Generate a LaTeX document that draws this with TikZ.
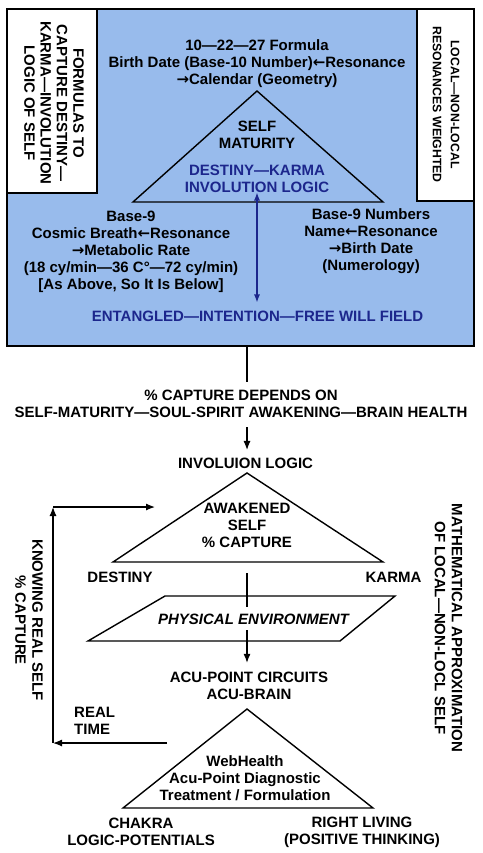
\documentclass[tikz,border=0pt]{standalone}
\usepackage{fontspec}
\setmainfont{Liberation Sans}
\newfontfamily\symfnt{DejaVu Sans}
\usetikzlibrary{arrows.meta}
\definecolor{boxblue}{RGB}{152,187,236}
\definecolor{txtblue}{RGB}{28,38,140}
\newcommand{\myla}{{\symfnt\bfseries ←}}
\newcommand{\myra}{{\symfnt\bfseries →}}
\begin{document}
\begin{tikzpicture}[x=1pt,y=-1pt,
  lbl/.style={font=\bfseries\fontsize{15}{17}\selectfont, align=center, inner sep=0pt},
  frame/.style={draw, line width=1.3pt, inner sep=0pt},
  tri/.style={draw, line width=1.4pt, line join=miter},
  plain/.style={draw, line width=1.2pt},
  arr/.style={draw, line width=1.2pt, -{Latex[length=9pt,width=7pt]}},
  barr/.style={draw=txtblue, line width=1.2pt, {Latex[length=8pt,width=6pt]}-{Latex[length=8pt,width=6pt]}}]
\useasboundingbox (0,0) rectangle (482,853);
% top blue panel
\node[frame, fill=boxblue, minimum width=467, minimum height=337] (outer) at (240.5,177.5) {};
\node[frame, fill=white, minimum width=90, minimum height=184] (lbox) at (52,101) {};
\node[frame, fill=white, minimum width=57, minimum height=192] (rbox) at (445.5,105) {};
\node[lbl, rotate=-90, font=\bfseries\fontsize{15}{16.3}\selectfont] (ltext) at (54,103)
  {FORMULAS TO\\CAPTURE DESTINY—\\KARMA—INVOLUTION\\LOGIC OF SELF};
\node[lbl, rotate=-90, font=\bfseries\fontsize{12.3}{18}\selectfont] (rtext) at (446,104.5)
  {LOCAL—NON-LOCAL\\RESONANCES WEIGHTED};
\node[lbl] (formula) at (257,64)
  {10—22—27 Formula\\Birth Date (Base-10 Number)\myla Resonance\\\myra Calendar (Geometry)};
\coordinate (t1a) at (257,91);
\coordinate (t1l) at (133,202);
\coordinate (t1r) at (383,202);
\draw[tri] (t1a) -- (t1l) -- (t1r) -- cycle;
\node[lbl] (selfmat) at (257,134.5) {SELF\\MATURITY};
\node[lbl, text=txtblue] (invlogic) at (257,178.5) {DESTINY—KARMA\\INVOLUTION LOGIC};
\node[lbl] (base9l) at (131,251.5)
  {Base-9\\Cosmic Breath\myla Resonance\\\myra Metabolic Rate\\(18 cy/min—36 C°—72 cy/min)\\\relax [As Above, So It Is Below]};
\node[lbl] (base9r) at (371,241)
  {Base-9 Numbers\\Name\myla Resonance\\\myra Birth Date\\(Numerology)};
\node[lbl, text=txtblue] (entangled) at (257.5,316) {ENTANGLED—INTENTION—FREE WILL FIELD};
\draw[barr, shorten >=8pt] (invlogic.south) -- (entangled.north -| invlogic.south);
% lower flow
\coordinate (ax) at (247,0);
\node[lbl] (capture) at (241,403.5)
  {\% CAPTURE DEPENDS ON\\SELF-MATURITY—SOUL-SPIRIT AWAKENING—BRAIN HEALTH};
\draw[plain, shorten >=7pt] (outer.south -| ax) -- (capture.north -| ax);
\node[lbl] (involuion) at (245.5,463) {INVOLUION LOGIC};
\draw[arr, shorten <=9.5pt, shorten >=7.5pt] (capture.south -| ax) -- (involuion.north -| ax);
\coordinate (t2a) at (247,473);
\coordinate (t2l) at (113,562);
\coordinate (t2r) at (383,562);
\draw[tri] (t2a) -- (t2l) -- (t2r) -- cycle;
\node[lbl] (awakened) at (247,525) {AWAKENED\\SELF\\\% CAPTURE};
\node[lbl] (destiny) at (120,577) {DESTINY};
\node[lbl] (karma) at (393.5,577) {KARMA};
\coordinate (p1) at (165,596);
\coordinate (p2) at (395,596);
\coordinate (p3) at (340,641);
\coordinate (p4) at (88,641);
\draw[tri] (p1) -- (p2) -- (p3) -- (p4) -- cycle;
\node[lbl, font=\bfseries\itshape\fontsize{15}{17}\selectfont] (physenv) at (253.5,619) {PHYSICAL ENVIRONMENT};
\coordinate (t2gap) at (247,573);
\draw[plain, shorten >=6.6pt] (t2gap) -- (physenv.north -| ax);
\node[lbl] (acu) at (249,685.5) {ACU-POINT CIRCUITS\\ACU-BRAIN};
\draw[arr, shorten <=5.6pt, shorten >=8.6pt] (physenv.south -| ax) -- (acu.north -| ax);
\coordinate (t3a) at (247,709);
\coordinate (t3l) at (123,808);
\coordinate (t3r) at (373,808);
\draw[tri] (t3a) -- (t3l) -- (t3r) -- cycle;
\node[lbl] (webhealth) at (245,778.5) {WebHealth\\Acu-Point Diagnostic\\Treatment / Formulation};
\node[lbl] (chakra) at (141,832) {CHAKRA\\LOGIC-POTENTIALS};
\node[lbl] (rightliving) at (362,832) {RIGHT LIVING\\(POSITIVE THINKING)};
\node[lbl, align=left, anchor=west] (realtime) at (74,720.5) {REAL\\TIME};
% feedback loop
\coordinate (fb0) at (167,743);
\coordinate (fb1) at (53,743);
\coordinate (fb2) at (53,507);
\coordinate (fb3) at (155,507);
\draw[arr] (fb0) -- (fb1);
\draw[arr] (fb1) -- (fb2);
\draw[arr] (fb2) -- (fb3);
\node[lbl, rotate=-90] (knowing) at (29,620) {KNOWING REAL SELF\\\% CAPTURE};
\node[lbl, rotate=-90] (mathapprox) at (448.5,628) {MATHEMATICAL APPROXIMATION\\OF LOCAL—NON-LOCL SELF};
\end{tikzpicture}
\end{document}
